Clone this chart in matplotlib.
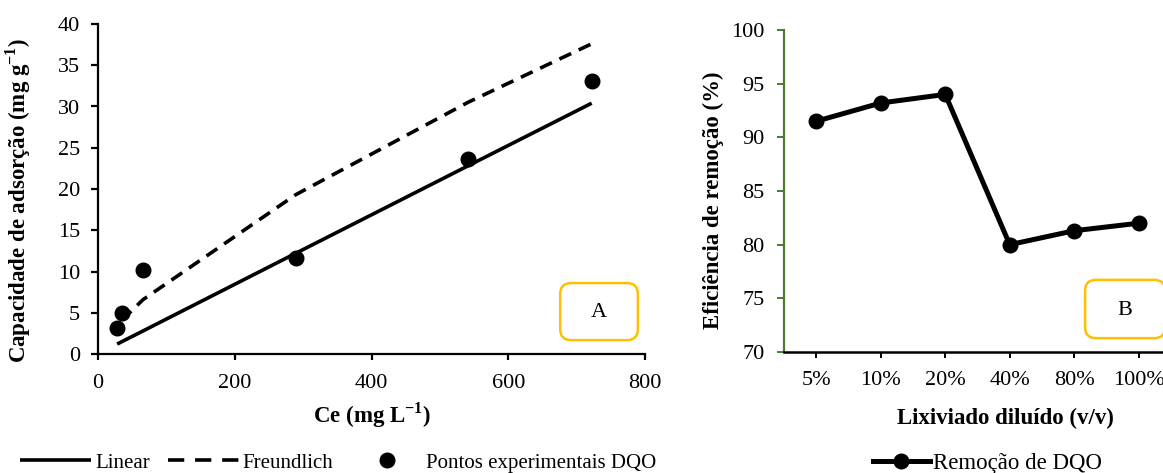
import matplotlib
matplotlib.use("Agg")
import matplotlib.pyplot as plt
from matplotlib.patches import FancyBboxPatch

# ---------------- data ----------------
ce = [28, 35, 66, 289, 541, 722]
q_exp = [3.2, 5.0, 10.2, 11.6, 23.6, 33.1]
q_linear = [1.2, 1.5, 2.8, 12.2, 22.8, 30.4]
ce_freund = [35, 66, 289, 541, 722]
q_freund = [4.1, 6.6, 19.3, 30.5, 37.6]

diluicao = ['5%', '10%', '20%', '40%', '80%', '100%']
remocao = [91.5, 93.2, 94.0, 80.0, 81.3, 82.0]

# ---------------- style ----------------
plt.rcParams['font.family'] = ['Liberation Serif', 'DejaVu Serif']
plt.rcParams['mathtext.fontset'] = 'custom'
plt.rcParams['mathtext.rm'] = 'Liberation Serif'
plt.rcParams['mathtext.bf'] = 'Liberation Serif:bold'
FS_TICK = 16
FS_LAB = 16.5
FS_LEGA = 15
FS_LEGB = 16.5
GOLD = '#FFC000'
GREEN = '#4E7B2E'

fig = plt.figure(figsize=(11.63, 4.73), dpi=100)

# ---------------- chart A ----------------
axA = fig.add_axes([98/1163, 1-354/473, 547/1163, 330/473])
axA.plot(ce, q_linear, color='black', lw=2.6, solid_capstyle='butt', label='Linear')
axA.plot(ce_freund, q_freund, color='black', lw=2.6, dashes=(3.6, 2.3),
         dash_capstyle='butt', label='Freundlich')
axA.plot(ce, q_exp, 'o', color='black', ms=10.5, label='Pontos experimentais DQO')
axA.set_xlim(0, 800)
axA.set_ylim(0, 40)
axA.set_xticks([0, 200, 400, 600, 800])
axA.set_yticks(range(0, 41, 5))
for s in ['top', 'right']:
    axA.spines[s].set_visible(False)
for s in ['left', 'bottom']:
    axA.spines[s].set_linewidth(1.6)
axA.tick_params(axis='both', labelsize=FS_TICK, width=1.6, direction='out')
axA.tick_params(axis='y', length=5, pad=8)
axA.tick_params(axis='x', length=4.5, pad=10)
axA.set_xlabel(r'Ce (mg L$^{\mathbf{-1}}$)', fontsize=FS_LAB, fontweight='bold')
axA.set_ylabel(r'Capacidade de adsorção (mg g$^{\mathbf{-1}}$)', fontsize=FS_LAB, fontweight='bold')
axA.xaxis.set_label_coords(0.5, -0.142)
axA.yaxis.set_label_coords(-0.118, 0.464)

boxA = FancyBboxPatch((0.845, 0.042), 0.142, 0.173, transform=axA.transAxes,
                      boxstyle='round,pad=0,rounding_size=0.02',
                      mutation_aspect=547/330, fc='white', ec=GOLD, lw=1.8, clip_on=False)
axA.add_patch(boxA)
axA.text(0.916, 0.125, 'A', transform=axA.transAxes, ha='center', va='center', fontsize=FS_TICK)

legA = axA.legend(loc='center left', bbox_to_anchor=(-0.142, -0.33), ncol=3, frameon=False,
                  fontsize=FS_LEGA, handlelength=3.4, handletextpad=0.2, columnspacing=0.85,
                  borderaxespad=0, borderpad=0)
legA.get_lines()[1].set_dashes((4.5, 3.0))

# ---------------- chart B ----------------
axB = fig.add_axes([784/1163, 1-352/473, 387/1163, 322/473])
xpos = list(range(len(diluicao)))
axB.plot(xpos, remocao, '-o', color='black', lw=3.6, ms=10.5, label='Remoção de DQO')
axB.set_xlim(-0.5, len(diluicao) - 0.5)
axB.set_ylim(70, 100)
axB.set_xticks(xpos)
axB.set_xticklabels(diluicao)
axB.set_yticks(range(70, 101, 5))
for s in ['top', 'right']:
    axB.spines[s].set_visible(False)
axB.spines['left'].set_color(GREEN)
axB.spines['left'].set_linewidth(1.6)
axB.spines['bottom'].set_linewidth(1.8)
axB.tick_params(axis='both', labelsize=FS_TICK, direction='out')
axB.tick_params(axis='y', length=5, width=1.4, color=GREEN, pad=9)
axB.tick_params(axis='x', length=4, width=1.4, pad=10)
axB.set_xlabel('Lixiviado diluído (v/v)', fontsize=FS_LAB, fontweight='bold')
axB.set_ylabel('Eficiência de remoção (%)', fontsize=FS_LAB, fontweight='bold')
axB.xaxis.set_label_coords(0.571, -0.172)
axB.yaxis.set_label_coords(-0.155, 0.472)

boxB = FancyBboxPatch((0.778, 0.043), 0.207, 0.181, transform=axB.transAxes,
                      boxstyle='round,pad=0,rounding_size=0.028',
                      mutation_aspect=387/322, fc='white', ec=GOLD, lw=1.8, clip_on=False)
axB.add_patch(boxB)
axB.text(0.881, 0.128, 'B', transform=axB.transAxes, ha='center', va='center', fontsize=FS_TICK)

legB = axB.legend(loc='center left', bbox_to_anchor=(0.229, -0.347), frameon=False,
                  fontsize=FS_LEGB, handlelength=2.5, handletextpad=0.15,
                  borderaxespad=0, borderpad=0)

fig.savefig('out.png', dpi=100)
